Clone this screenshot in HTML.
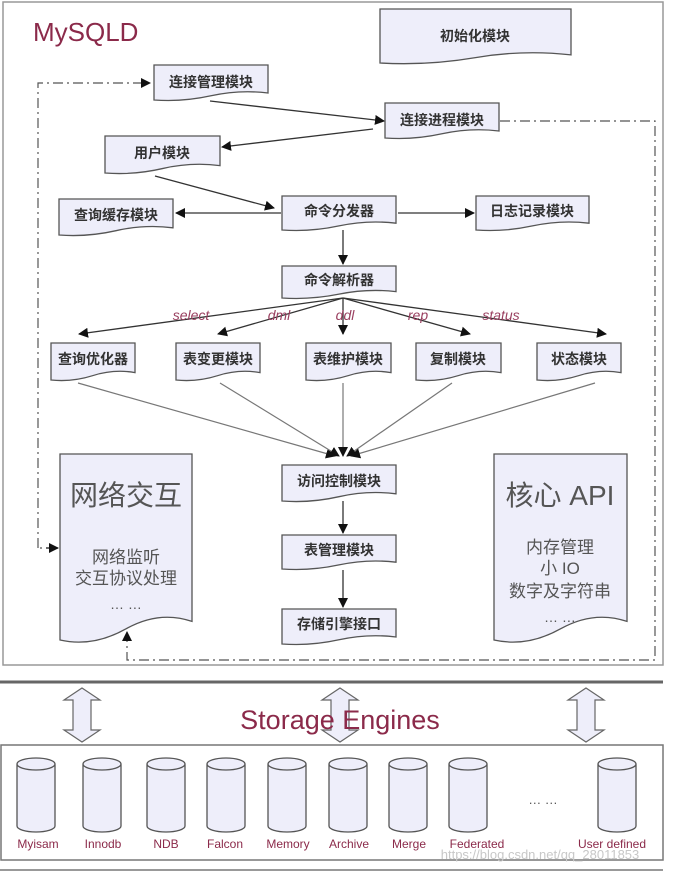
<!DOCTYPE html>
<html><head><meta charset="utf-8"><style>
html,body{margin:0;padding:0;background:#fff;}
svg{display:block;font-family:"Liberation Sans","Noto Sans CJK SC",sans-serif;}
.b{fill:#eeeefa;stroke:#555;stroke-width:1.3;}
.t{font-size:14px;fill:#333;text-anchor:middle;font-weight:bold;}
.l{stroke:#333;stroke-width:1.3;fill:none;}
.g{stroke:#777;stroke-width:1.2;fill:none;}
.d{stroke:#555;stroke-width:1.2;fill:none;stroke-dasharray:10,4,2,4;}
.lab{font-size:14px;fill:#9a4060;font-style:italic;text-anchor:middle;}
.c{fill:#eeeefa;stroke:#555;stroke-width:1.3;}
.e{font-size:12px;fill:#8b2a4a;text-anchor:middle;}
</style></head><body>
<svg width="673" height="873" viewBox="0 0 673 873">
<defs>
<marker id="a" markerWidth="10" markerHeight="10" refX="9" refY="5" orient="auto" markerUnits="userSpaceOnUse"><path d="M0,0 L10,5 L0,10 Z" fill="#111"/></marker>
</defs>
<rect x="3" y="2" width="660" height="663" fill="none" stroke="#999" stroke-width="1.5"/>
<text x="33" y="41" font-size="26" fill="#8b2a4a">MySQLD</text>

<g class="b">
<path vector-effect="non-scaling-stroke" transform="translate(380,9) scale(191,54)" d="M0,0H1V0.85Q0.75,0.75 0.5,0.9T0,1Z"/>
<path vector-effect="non-scaling-stroke" transform="translate(154,65) scale(114,35)" d="M0,0H1V0.8Q0.75,0.7 0.5,0.88T0,1Z"/>
<path vector-effect="non-scaling-stroke" transform="translate(385,103) scale(114,35)" d="M0,0H1V0.8Q0.75,0.7 0.5,0.88T0,1Z"/>
<path vector-effect="non-scaling-stroke" transform="translate(105,136) scale(115,37)" d="M0,0H1V0.8Q0.75,0.7 0.5,0.88T0,1Z"/>
<path vector-effect="non-scaling-stroke" transform="translate(59,199) scale(114,36)" d="M0,0H1V0.8Q0.75,0.7 0.5,0.88T0,1Z"/>
<path vector-effect="non-scaling-stroke" transform="translate(282,196) scale(114,34)" d="M0,0H1V0.8Q0.75,0.7 0.5,0.88T0,1Z"/>
<path vector-effect="non-scaling-stroke" transform="translate(476,196) scale(113,34)" d="M0,0H1V0.8Q0.75,0.7 0.5,0.88T0,1Z"/>
<path vector-effect="non-scaling-stroke" transform="translate(282,266) scale(114,32)" d="M0,0H1V0.8Q0.75,0.7 0.5,0.88T0,1Z"/>
<path vector-effect="non-scaling-stroke" transform="translate(51,343) scale(84,37)" d="M0,0H1V0.8Q0.75,0.7 0.5,0.88T0,1Z"/>
<path vector-effect="non-scaling-stroke" transform="translate(176,343) scale(84,37)" d="M0,0H1V0.8Q0.75,0.7 0.5,0.88T0,1Z"/>
<path vector-effect="non-scaling-stroke" transform="translate(306,343) scale(85,37)" d="M0,0H1V0.8Q0.75,0.7 0.5,0.88T0,1Z"/>
<path vector-effect="non-scaling-stroke" transform="translate(416,343) scale(85,37)" d="M0,0H1V0.8Q0.75,0.7 0.5,0.88T0,1Z"/>
<path vector-effect="non-scaling-stroke" transform="translate(537,343) scale(84,37)" d="M0,0H1V0.8Q0.75,0.7 0.5,0.88T0,1Z"/>
<path vector-effect="non-scaling-stroke" transform="translate(282,465) scale(114,36)" d="M0,0H1V0.8Q0.75,0.7 0.5,0.88T0,1Z"/>
<path vector-effect="non-scaling-stroke" transform="translate(282,535) scale(114,34)" d="M0,0H1V0.8Q0.75,0.7 0.5,0.88T0,1Z"/>
<path vector-effect="non-scaling-stroke" transform="translate(282,609) scale(114,35)" d="M0,0H1V0.8Q0.75,0.7 0.5,0.88T0,1Z"/>
<path vector-effect="non-scaling-stroke" transform="translate(60,454) scale(132,186)" d="M0,0H1V0.9Q0.75,0.84 0.5,0.94T0,1Z" transform-origin="0 0"/>
<path vector-effect="non-scaling-stroke" transform="translate(494,454) scale(133,186)" d="M0,0H1V0.9Q0.75,0.84 0.5,0.94T0,1Z"/>
</g>

<g class="t">
<text x="475" y="41">初始化模块</text>
<text x="211" y="87">连接管理模块</text>
<text x="442" y="125">连接进程模块</text>
<text x="162" y="158">用户模块</text>
<text x="116" y="220">查询缓存模块</text>
<text x="339" y="216">命令分发器</text>
<text x="532" y="216">日志记录模块</text>
<text x="339" y="285">命令解析器</text>
<text x="93" y="364">查询优化器</text>
<text x="218" y="364">表变更模块</text>
<text x="348" y="364">表维护模块</text>
<text x="458" y="364">复制模块</text>
<text x="579" y="364">状态模块</text>
<text x="339" y="486">访问控制模块</text>
<text x="339" y="555">表管理模块</text>
<text x="339" y="629">存储引擎接口</text>
</g>

<g fill="#555" text-anchor="middle">
<text x="126" y="505" font-size="28">网络交互</text>
<text x="126" y="563" font-size="17">网络监听</text>
<text x="126" y="584" font-size="17">交互协议处理</text>
<text x="126" y="609" font-size="14">… …</text>
<text x="560" y="505" font-size="28">核心 API</text>
<text x="560" y="553" font-size="17">内存管理</text>
<text x="560" y="574" font-size="17">小 IO</text>
<text x="560" y="597" font-size="17">数字及字符串</text>
<text x="560" y="622" font-size="14">… …</text>
</g>

<g class="l" marker-end="url(#a)">
<line x1="210" y1="101" x2="384" y2="121"/>
<line x1="373" y1="129" x2="222" y2="147"/>
<line x1="155" y1="176" x2="274" y2="208"/>
<line x1="281" y1="213" x2="176" y2="213"/>
<line x1="398" y1="213" x2="474" y2="213"/>
<line x1="343" y1="230" x2="343" y2="264"/>
<line x1="343" y1="298" x2="79" y2="334"/>
<line x1="343" y1="298" x2="218" y2="334"/>
<line x1="343" y1="298" x2="343" y2="334"/>
<line x1="343" y1="298" x2="470" y2="334"/>
<line x1="343" y1="298" x2="606" y2="334"/>
<line x1="343" y1="501" x2="343" y2="533"/>
<line x1="343" y1="570" x2="343" y2="607"/>
</g>
<g class="g" marker-end="url(#a)">
<line x1="78" y1="383" x2="335" y2="456"/>
<line x1="220" y1="383" x2="339" y2="456"/>
<line x1="343" y1="383" x2="343" y2="456"/>
<line x1="452" y1="383" x2="347" y2="456"/>
<line x1="595" y1="383" x2="351" y2="456"/>
</g>
<g class="lab">
<text x="191" y="320">select</text>
<text x="279" y="320">dml</text>
<text x="345" y="320">ddl</text>
<text x="418" y="320">rep</text>
<text x="501" y="320">status</text>
</g>

<path class="d" d="M38,548 V83 H150" marker-end="url(#a)"/>
<path class="d" d="M56,548 H38"/>
<line x1="46" y1="548" x2="58" y2="548" class="l" marker-end="url(#a)"/>
<path class="d" d="M500,121 H655 V660 H127 V632" marker-end="url(#a)"/>

<line x1="0" y1="682" x2="663" y2="682" stroke="#666" stroke-width="3"/>
<rect x="1" y="745" width="662" height="115" fill="none" stroke="#777" stroke-width="1.5"/>
<line x1="0" y1="870" x2="663" y2="870" stroke="#999" stroke-width="2"/>

<g fill="#eeeefa" stroke="#666" stroke-width="1.2">
<path d="M82,688 L100,700 H91 V730 H100 L82,742 L64,730 H73 V700 H64 Z"/>
<path d="M340,688 L358,700 H349 V730 H358 L340,742 L322,730 H331 V700 H322 Z"/>
<path d="M586,688 L604,700 H595 V730 H604 L586,742 L568,730 H577 V700 H568 Z"/>
</g>
<text x="340" y="729" font-size="27" fill="#8b2a4a" text-anchor="middle">Storage Engines</text>

<g class="c">
<path d="M17,764 V826 A19,6 0 0 0 55,826 V764 A19,6 0 0 0 17,764 A19,6 0 0 0 55,764"/>
<path d="M83,764 V826 A19,6 0 0 0 121,826 V764 A19,6 0 0 0 83,764 A19,6 0 0 0 121,764"/>
<path d="M147,764 V826 A19,6 0 0 0 185,826 V764 A19,6 0 0 0 147,764 A19,6 0 0 0 185,764"/>
<path d="M207,764 V826 A19,6 0 0 0 245,826 V764 A19,6 0 0 0 207,764 A19,6 0 0 0 245,764"/>
<path d="M268,764 V826 A19,6 0 0 0 306,826 V764 A19,6 0 0 0 268,764 A19,6 0 0 0 306,764"/>
<path d="M329,764 V826 A19,6 0 0 0 367,826 V764 A19,6 0 0 0 329,764 A19,6 0 0 0 367,764"/>
<path d="M389,764 V826 A19,6 0 0 0 427,826 V764 A19,6 0 0 0 389,764 A19,6 0 0 0 427,764"/>
<path d="M449,764 V826 A19,6 0 0 0 487,826 V764 A19,6 0 0 0 449,764 A19,6 0 0 0 487,764"/>
<path d="M598,764 V826 A19,6 0 0 0 636,826 V764 A19,6 0 0 0 598,764 A19,6 0 0 0 636,764"/>
</g>
<g class="e">
<text x="38" y="848">Myisam</text>
<text x="103" y="848">Innodb</text>
<text x="166" y="848">NDB</text>
<text x="225" y="848">Falcon</text>
<text x="288" y="848">Memory</text>
<text x="349" y="848">Archive</text>
<text x="409" y="848">Merge</text>
<text x="477" y="848">Federated</text>
<text x="612" y="848">User defined</text>
</g>
<text x="543" y="804" font-size="13" fill="#555" text-anchor="middle">… …</text>
<text x="540" y="859" font-size="13" fill="#c8c8c8" text-anchor="middle">https://blog.csdn.net/qq_28011853</text>
</svg>
</body></html>
